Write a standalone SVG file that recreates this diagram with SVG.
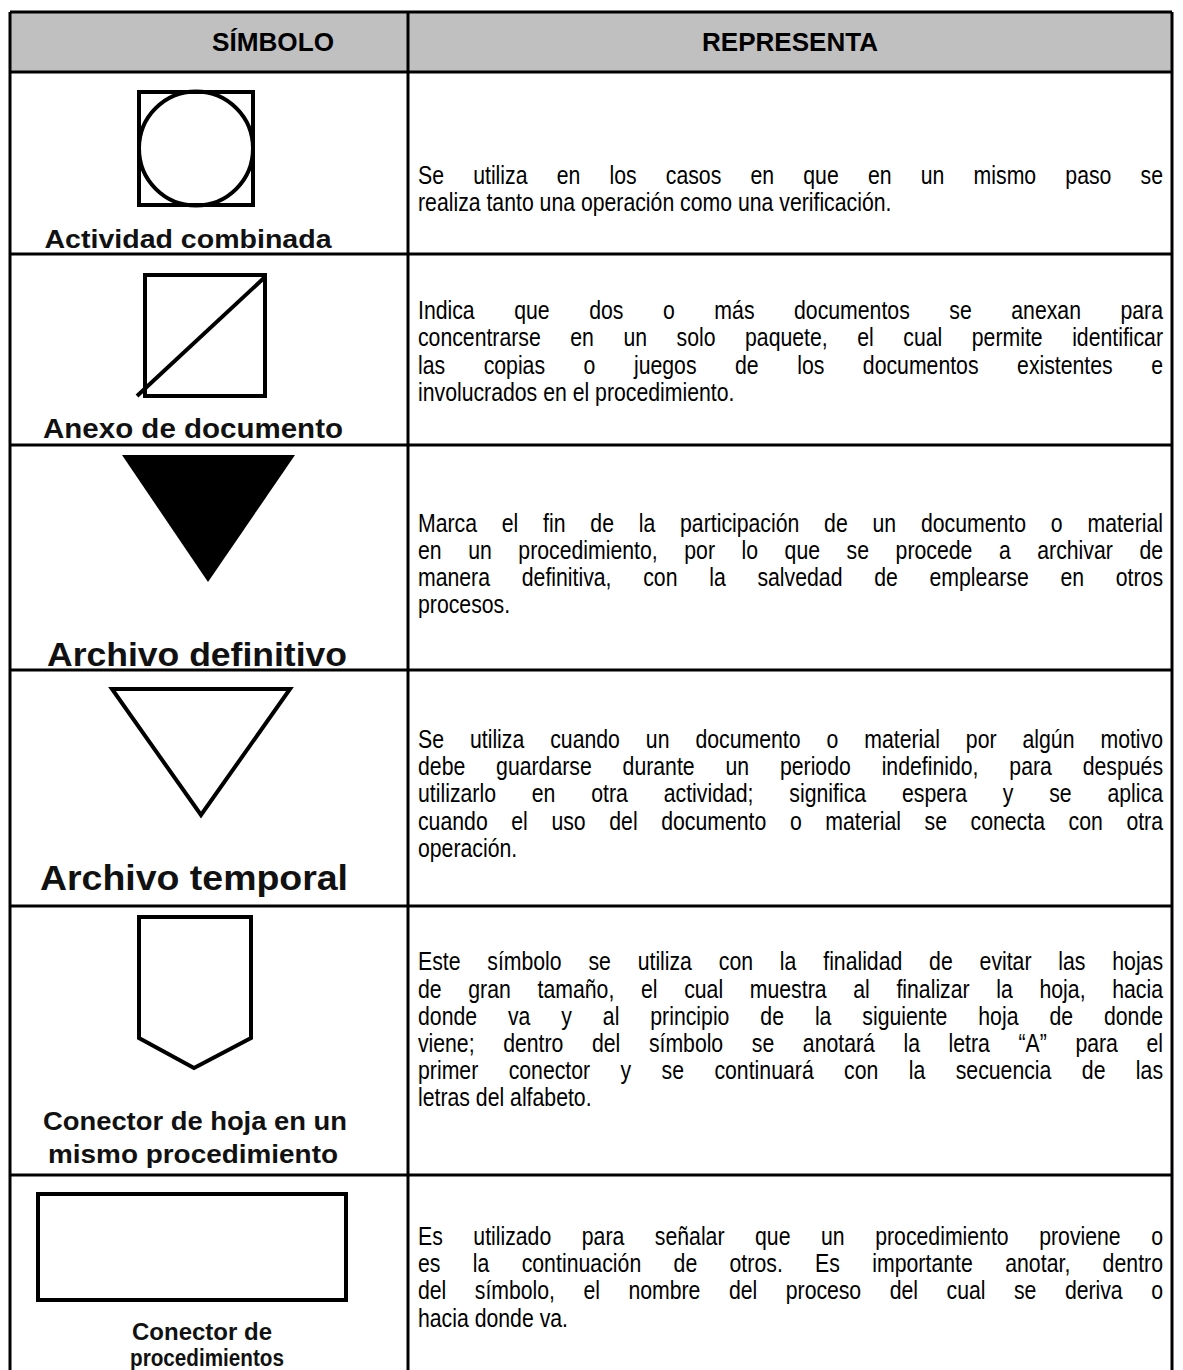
<svg xmlns="http://www.w3.org/2000/svg" width="1183" height="1370" viewBox="0 0 1183 1370">
<style>
.bg{fill:#ffffff}
.hdrfill{fill:#c0c0c0}
.grid{stroke:#000;stroke-width:3;fill:none}
.hdr{font-family:"Liberation Sans",Arial,sans-serif;font-weight:bold;font-size:25px;text-anchor:middle;fill:#000}
.p{font-family:"Liberation Sans",Arial,sans-serif;font-size:25px;fill:#000}
.lbl{font-family:"Liberation Sans",Arial,sans-serif;font-weight:bold;text-anchor:middle;fill:#111}
.sym{fill:none;stroke:#000;stroke-width:4;stroke-linejoin:miter}
</style>
<rect class="bg" x="0" y="0" width="1183" height="1370"/>
<g id="header">
<rect class="hdrfill" x="10" y="12" width="1162" height="60"/>
<text class="hdr" x="273" y="51" textLength="122" lengthAdjust="spacingAndGlyphs">SÍMBOLO</text>
<text class="hdr" x="790" y="51" textLength="176" lengthAdjust="spacingAndGlyphs">REPRESENTA</text>
</g>
<g id="grid">
<line class="grid" x1="10" y1="12" x2="1172" y2="12"/>
<line class="grid" x1="10" y1="12" x2="10" y2="1370"/>
<line class="grid" x1="1172" y1="12" x2="1172" y2="1370"/>
<line class="grid" x1="408" y1="12" x2="408" y2="1370"/>
<line class="grid" x1="10" y1="72" x2="1172" y2="72"/>
<line class="grid" x1="10" y1="254" x2="1172" y2="254"/>
<line class="grid" x1="10" y1="445" x2="1172" y2="445"/>
<line class="grid" x1="10" y1="670" x2="1172" y2="670"/>
<line class="grid" x1="10" y1="906" x2="1172" y2="906"/>
<line class="grid" x1="10" y1="1175" x2="1172" y2="1175"/>
</g>
<g id="row-actividad-combinada">
<rect class="sym" x="139" y="92" width="114" height="113"/>
<circle class="sym" cx="196" cy="148.5" r="57" stroke-width="3.5"/>
<text class="lbl" x="188" y="248" font-size="26" textLength="287" lengthAdjust="spacingAndGlyphs">Actividad combinada</text>
<g transform="translate(418 0) scale(0.85 1)">
<text class="p" x="0" y="184" textLength="876.5" lengthAdjust="spacing" word-spacing="27.4">Se utiliza en los casos en que en un mismo paso se</text>
<text class="p" x="0" y="211">realiza tanto una operación como una verificación.</text>
</g>
</g>
<g id="row-anexo-documento">
<rect class="sym" x="145" y="275" width="120" height="121"/>
<line class="sym" x1="137" y1="396" x2="265" y2="277"/>
<text class="lbl" x="193" y="438" font-size="27" textLength="300" lengthAdjust="spacingAndGlyphs">Anexo de documento</text>
<g transform="translate(418 0) scale(0.85 1)">
<text class="p" x="0" y="319" textLength="876.5" lengthAdjust="spacing" word-spacing="39.6">Indica que dos o más documentos se anexan para</text>
<text class="p" x="0" y="346" textLength="876.5" lengthAdjust="spacing" word-spacing="27.8">concentrarse en un solo paquete, el cual permite identificar</text>
<text class="p" x="0" y="374" textLength="876.5" lengthAdjust="spacing" word-spacing="38.4">las copias o juegos de los documentos existentes e</text>
<text class="p" x="0" y="401">involucrados en el procedimiento.</text>
</g>
</g>
<g id="row-archivo-definitivo">
<polygon points="122,455 295,455 208,582" fill="#000"/>
<text class="lbl" x="197" y="666" font-size="34" textLength="300" lengthAdjust="spacingAndGlyphs">Archivo definitivo</text>
<g transform="translate(418 0) scale(0.85 1)">
<text class="p" x="0" y="532" textLength="876.5" lengthAdjust="spacing" word-spacing="22.2">Marca el fin de la participación de un documento o material</text>
<text class="p" x="0" y="559" textLength="876.5" lengthAdjust="spacing" word-spacing="24.3">en un procedimiento, por lo que se procede a archivar de</text>
<text class="p" x="0" y="586" textLength="876.5" lengthAdjust="spacing" word-spacing="30.4">manera definitiva, con la salvedad de emplearse en otros</text>
<text class="p" x="0" y="613">procesos.</text>
</g>
</g>
<g id="row-archivo-temporal">
<polygon class="sym" points="112,689 290,689 201,815" stroke-width="5"/>
<text class="lbl" x="194" y="890" font-size="35" textLength="308" lengthAdjust="spacingAndGlyphs">Archivo temporal</text>
<g transform="translate(418 0) scale(0.85 1)">
<text class="p" x="0" y="748" textLength="876.5" lengthAdjust="spacing" word-spacing="23.6">Se utiliza cuando un documento o material por algún motivo</text>
<text class="p" x="0" y="775" textLength="876.5" lengthAdjust="spacing" word-spacing="29.3">debe guardarse durante un periodo indefinido, para después</text>
<text class="p" x="0" y="802" textLength="876.5" lengthAdjust="spacing" word-spacing="35.2">utilizarlo en otra actividad; significa espera y se aplica</text>
<text class="p" x="0" y="830" textLength="876.5" lengthAdjust="spacing" word-spacing="20.8">cuando el uso del documento o material se conecta con otra</text>
<text class="p" x="0" y="857">operación.</text>
</g>
</g>
<g id="row-conector-hoja">
<polygon class="sym" points="139,917 251,917 251,1038 194,1068 139,1038"/>
<text class="lbl" x="195" y="1130" font-size="26" textLength="304" lengthAdjust="spacingAndGlyphs">Conector de hoja en un</text>
<text class="lbl" x="193" y="1163" font-size="26" textLength="290" lengthAdjust="spacingAndGlyphs">mismo procedimiento</text>
<g transform="translate(418 0) scale(0.85 1)">
<text class="p" x="0" y="970" textLength="876.5" lengthAdjust="spacing" word-spacing="24.7">Este símbolo se utiliza con la finalidad de evitar las hojas</text>
<text class="p" x="0" y="998" textLength="876.5" lengthAdjust="spacing" word-spacing="24.4">de gran tamaño, el cual muestra al finalizar la hoja, hacia</text>
<text class="p" x="0" y="1025" textLength="876.5" lengthAdjust="spacing" word-spacing="29.4">donde va y al principio de la siguiente hoja de donde</text>
<text class="p" x="0" y="1052" textLength="876.5" lengthAdjust="spacing" word-spacing="26.8">viene; dentro del símbolo se anotará la letra “A” para el</text>
<text class="p" x="0" y="1079" textLength="876.5" lengthAdjust="spacing" word-spacing="28.8">primer conector y se continuará con la secuencia de las</text>
<text class="p" x="0" y="1106">letras del alfabeto.</text>
</g>
</g>
<g id="row-conector-procedimientos">
<rect class="sym" x="38" y="1194" width="308" height="106"/>
<text class="lbl" x="202" y="1340" font-size="23" textLength="140" lengthAdjust="spacingAndGlyphs">Conector de</text>
<text class="lbl" x="207" y="1366" font-size="23" textLength="154" lengthAdjust="spacingAndGlyphs">procedimientos</text>
<g transform="translate(418 0) scale(0.85 1)">
<text class="p" x="0" y="1245" textLength="876.5" lengthAdjust="spacing" word-spacing="29">Es utilizado para señalar que un procedimiento proviene o</text>
<text class="p" x="0" y="1272" textLength="876.5" lengthAdjust="spacing" word-spacing="31">es la continuación de otros. Es importante anotar, dentro</text>
<text class="p" x="0" y="1299" textLength="876.5" lengthAdjust="spacing" word-spacing="26.7">del símbolo, el nombre del proceso del cual se deriva o</text>
<text class="p" x="0" y="1327">hacia donde va.</text>
</g>
</g>
</svg>
